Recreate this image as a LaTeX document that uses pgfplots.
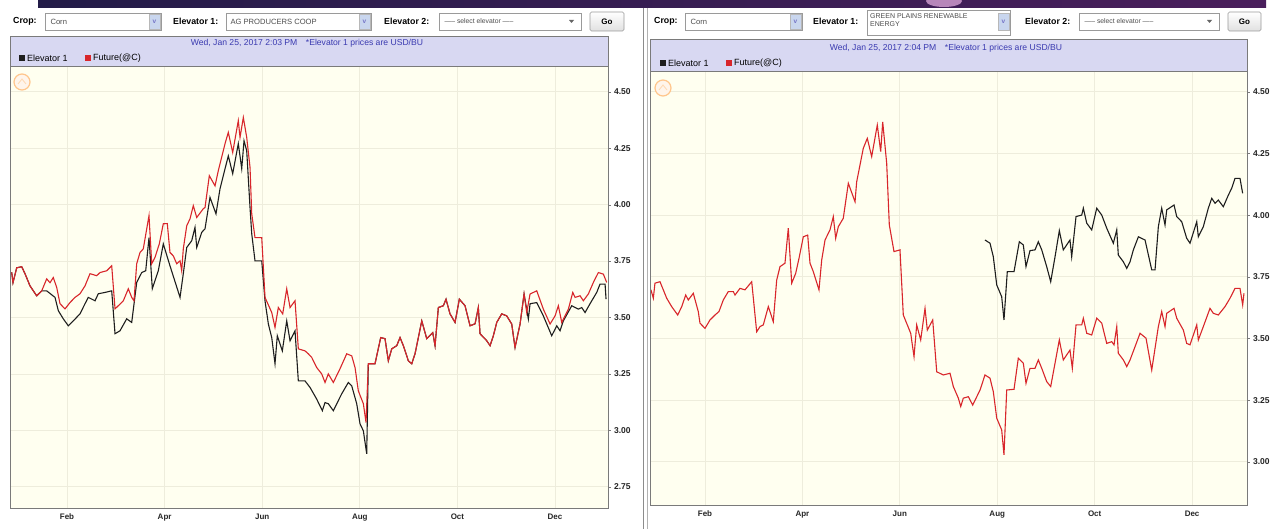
\documentclass[border=0pt]{standalone}
\usepackage{fontspec}
\setmainfont{Liberation Sans}
\usepackage{pgfplots}
\usepackage{pgfplotstable}
\pgfplotsset{compat=1.18}

\definecolor{cream}{HTML}{FFFFF0}
\definecolor{lav}{HTML}{D8D8F2}
\definecolor{gridc}{HTML}{EEEDDC}
\definecolor{framec}{HTML}{7A7A7A}
\definecolor{futred}{HTML}{D8262B}
\definecolor{elevblk}{HTML}{1E1E1E}
\definecolor{datec}{HTML}{3A3AB0}
\definecolor{boxc}{HTML}{9A9A9A}
\definecolor{arrowc}{HTML}{C9D6EE}
\definecolor{bandl}{HTML}{231C48}
\definecolor{bandr}{HTML}{4A1F5C}

% left chart: AG PRODUCERS COOP (x = month, 0 = Jan)
\pgfplotstableread{
x v
-0.133 3.700
-0.107 3.654
-0.031 3.720
0.072 3.725
0.139 3.694
0.242 3.640
0.379 3.596
0.482 3.618
0.584 3.671
0.652 3.654
0.719 3.677
0.789 3.633
0.857 3.561
0.959 3.538
1.061 3.566
1.164 3.589
1.266 3.605
1.369 3.640
1.471 3.694
1.609 3.685
1.676 3.699
1.814 3.707
1.916 3.729
1.984 3.538
2.051 3.552
2.154 3.574
2.256 3.627
2.326 3.589
2.373 3.574
2.428 3.738
2.496 3.788
2.563 3.804
2.680 3.951
2.736 3.738
2.803 3.766
2.891 3.826
2.973 3.915
3.055 3.916
3.110 3.788
3.178 3.773
3.248 3.738
3.316 3.751
3.350 3.707
3.383 3.804
3.453 3.906
3.520 3.937
3.588 3.995
3.658 3.943
3.793 3.982
3.828 3.987
3.916 4.128
4.033 4.083
4.100 4.150
4.238 4.270
4.305 4.320
4.395 4.231
4.510 4.372
4.545 4.298
4.613 4.386
4.682 4.298
4.750 4.165
4.785 3.959
4.852 3.854
4.990 3.854
5.057 3.589
5.195 3.522
5.262 3.456
5.330 3.544
5.420 3.516
5.502 3.627
5.570 3.544
5.672 3.574
5.740 3.361
5.877 3.352
5.945 3.339
6.014 3.323
6.117 3.278
6.219 3.250
6.287 3.212
6.354 3.250
6.457 3.212
6.594 3.273
6.731 3.339
6.834 3.330
6.902 3.278
6.969 3.175
7.072 3.118
7.127 3.035
7.174 3.295
7.311 3.295
7.428 3.411
7.516 3.406
7.584 3.308
7.654 3.361
7.756 3.375
7.824 3.411
7.892 3.375
7.994 3.308
8.064 3.295
8.131 3.339
8.269 3.485
8.371 3.406
8.494 3.433
8.541 3.375
8.609 3.544
8.711 3.552
8.766 3.581
8.848 3.516
8.951 3.478
9.039 3.581
9.156 3.552
9.258 3.463
9.361 3.472
9.428 3.544
9.463 3.428
9.600 3.397
9.668 3.375
9.736 3.419
9.805 3.478
9.908 3.516
10.010 3.507
10.112 3.471
10.180 3.367
10.283 3.471
10.365 3.604
10.420 3.522
10.488 3.604
10.625 3.618
10.760 3.537
10.898 3.471
11.000 3.507
11.068 3.552
11.137 3.478
11.273 3.537
11.363 3.611
11.410 3.589
11.512 3.596
11.580 3.574
11.682 3.604
11.785 3.655
11.887 3.699
11.990 3.692
12.059 3.655
}\leftfut

\pgfplotstableread{
x v
-0.133 3.700
-0.107 3.654
-0.031 3.720
0.072 3.725
0.139 3.694
0.242 3.640
0.379 3.596
0.482 3.618
0.584 3.618
0.754 3.589
0.822 3.530
0.924 3.494
1.027 3.463
1.129 3.485
1.266 3.516
1.369 3.561
1.436 3.589
1.574 3.574
1.641 3.605
1.779 3.611
1.916 3.618
1.984 3.428
2.086 3.441
2.223 3.494
2.326 3.478
2.428 3.655
2.531 3.699
2.613 3.707
2.680 3.854
2.748 3.627
2.871 3.707
2.973 3.826
3.110 3.729
3.316 3.589
3.383 3.694
3.453 3.810
3.555 3.840
3.623 3.899
3.658 3.810
3.760 3.877
3.828 3.893
3.930 4.032
4.053 3.959
4.135 4.070
4.305 4.216
4.395 4.137
4.510 4.270
4.580 4.159
4.627 4.283
4.682 4.239
4.750 3.987
4.785 3.871
4.852 3.751
4.990 3.751
5.057 3.574
5.125 3.472
5.195 3.411
5.262 3.295
5.309 3.419
5.412 3.352
5.502 3.485
5.570 3.397
5.672 3.441
5.740 3.219
5.877 3.219
5.980 3.190
6.117 3.138
6.232 3.087
6.287 3.123
6.354 3.118
6.457 3.087
6.629 3.162
6.764 3.212
6.834 3.197
6.936 3.118
7.004 3.029
7.072 2.998
7.141 2.896
7.174 3.295
7.311 3.295
7.428 3.411
7.516 3.406
7.584 3.308
7.654 3.361
7.756 3.375
7.824 3.411
7.892 3.375
7.994 3.308
8.064 3.295
8.131 3.339
8.269 3.485
8.371 3.406
8.494 3.433
8.541 3.375
8.609 3.544
8.711 3.552
8.766 3.581
8.848 3.516
8.951 3.478
9.039 3.581
9.156 3.552
9.258 3.463
9.361 3.472
9.428 3.544
9.463 3.428
9.600 3.397
9.668 3.375
9.736 3.419
9.805 3.478
9.908 3.516
10.010 3.507
10.112 3.471
10.180 3.367
10.283 3.471
10.365 3.604
10.453 3.493
10.488 3.561
10.625 3.566
10.760 3.507
10.932 3.419
11.035 3.463
11.102 3.441
11.170 3.485
11.342 3.552
11.477 3.537
11.547 3.544
11.615 3.522
11.717 3.561
11.854 3.611
11.922 3.648
12.025 3.648
12.045 3.581
}\leftelev

% right chart: GREEN PLAINS RENEWABLE ENERGY
\pgfplotstableread{
x v
-0.109 3.697
-0.061 3.663
-0.027 3.724
0.076 3.730
0.214 3.663
0.316 3.629
0.440 3.595
0.522 3.629
0.604 3.676
0.657 3.656
0.760 3.683
0.862 3.609
0.897 3.562
1.000 3.541
1.103 3.575
1.205 3.595
1.287 3.609
1.376 3.656
1.478 3.690
1.581 3.690
1.616 3.676
1.719 3.703
1.821 3.697
1.959 3.730
2.061 3.527
2.129 3.548
2.197 3.555
2.300 3.629
2.402 3.568
2.472 3.737
2.540 3.791
2.642 3.805
2.710 3.947
2.780 3.724
2.862 3.764
2.930 3.825
3.018 3.912
3.108 3.919
3.156 3.805
3.223 3.771
3.340 3.697
3.396 3.818
3.464 3.899
3.566 3.940
3.634 3.994
3.683 3.906
3.737 3.953
3.839 3.987
3.942 4.129
4.080 4.054
4.114 4.135
4.250 4.271
4.332 4.311
4.422 4.237
4.537 4.365
4.607 4.257
4.648 4.378
4.730 4.210
4.784 3.960
4.880 3.852
5.003 3.859
5.071 3.595
5.223 3.521
5.291 3.426
5.346 3.555
5.428 3.494
5.517 3.622
5.564 3.534
5.675 3.575
5.757 3.365
5.892 3.352
6.030 3.359
6.098 3.305
6.201 3.258
6.250 3.224
6.303 3.258
6.406 3.264
6.496 3.230
6.646 3.291
6.748 3.352
6.851 3.339
6.919 3.284
6.989 3.177
7.091 3.129
7.138 3.028
7.194 3.291
7.344 3.294
7.432 3.420
7.535 3.400
7.590 3.318
7.672 3.379
7.775 3.379
7.843 3.413
7.913 3.379
8.015 3.325
8.097 3.305
8.186 3.400
8.274 3.494
8.356 3.413
8.493 3.453
8.541 3.379
8.617 3.555
8.734 3.555
8.767 3.582
8.837 3.521
8.939 3.514
9.042 3.582
9.145 3.562
9.247 3.480
9.350 3.487
9.397 3.474
9.453 3.548
9.485 3.440
9.588 3.413
9.658 3.386
9.726 3.413
9.829 3.467
9.931 3.521
10.054 3.501
10.171 3.372
10.307 3.548
10.376 3.609
10.444 3.548
10.479 3.602
10.629 3.622
10.684 3.582
10.820 3.534
10.889 3.480
10.957 3.474
11.095 3.555
11.128 3.494
11.230 3.548
11.367 3.622
11.435 3.602
11.538 3.595
11.675 3.629
11.778 3.663
11.880 3.703
11.983 3.703
12.038 3.636
12.065 3.683
}\rightfut

\pgfplotstableread{
x v
6.748 3.899
6.851 3.886
6.919 3.831
6.989 3.717
7.091 3.669
7.138 3.575
7.206 3.771
7.344 3.771
7.453 3.892
7.535 3.879
7.590 3.791
7.672 3.856
7.775 3.859
7.843 3.892
7.913 3.859
8.015 3.791
8.097 3.730
8.186 3.831
8.274 3.937
8.356 3.859
8.493 3.899
8.528 3.831
8.617 3.994
8.734 4.000
8.767 4.028
8.837 3.967
8.939 3.940
9.042 4.028
9.145 4.000
9.247 3.947
9.383 3.886
9.453 3.940
9.485 3.838
9.588 3.811
9.658 3.784
9.726 3.811
9.794 3.859
9.897 3.912
10.034 3.899
10.171 3.778
10.239 3.778
10.307 3.953
10.376 4.028
10.444 3.960
10.479 4.021
10.629 4.041
10.684 3.994
10.787 3.973
10.889 3.906
10.957 3.886
11.095 3.973
11.128 3.912
11.230 3.953
11.333 4.028
11.403 4.068
11.470 4.048
11.538 4.061
11.641 4.034
11.744 4.081
11.813 4.109
11.880 4.149
11.983 4.149
12.038 4.088
}\rightelev

\pgfplotsset{
  elev/.style={
    scale only axis, anchor=north west,
    axis background/.style={fill=cream},
    axis line style={draw=framec, line width=0.8pt},
    xtick={1,3,5,7,9,11},
    xticklabels={Feb,Apr,Jun,Aug,Oct,Dec},
    xtick pos=bottom, ytick pos=right, yticklabel pos=right,
    xtick style={draw=none},
    ytick style={draw=framec},
    tick align=outside, major tick length=2.5pt,
    grid=major, major grid style={draw=gridc, line width=0.7pt},
    xticklabel style={font=\bfseries\fontsize{8}{9}\selectfont, text=black!85},
    yticklabel style={font=\bfseries\fontsize{8.5}{9}\selectfont, text=black!85,
      /pgf/number format/.cd, fixed, fixed zerofill, precision=2},
    /pgf/number format/assume math mode=true,
  },
  futline/.style={draw=futred, line width=1.1pt},
  elevline/.style={draw=elevblk, line width=1.1pt},
}

\newcommand{\lbl}[3]{\node[anchor=west, inner sep=0pt, font=\bfseries\fontsize{8.8}{10}\selectfont] at (#1pt,-#2pt) {#3};}
\newcommand{\ddbox}[4]{% x1, x2, y1, y2
  \draw[boxc, fill=white, line width=0.6pt] (#1pt,-#3pt) rectangle (#2pt,-#4pt);}
\newcommand{\ddarrow}[3]{% xright, y1, y2
  \draw[boxc!70, fill=arrowc, line width=0.5pt] (#1pt-12pt,-#2pt-1pt) rectangle (#1pt-1pt,-#3pt+1pt);
  \node[font=\bfseries\fontsize{6.5}{6.5}\selectfont, text=datec!70] at (#1pt-6.5pt,-#2pt/2-#3pt/2) {v};}
\newcommand{\gobtn}[2]{% x1, x2
  \draw[boxc, top color=white, bottom color=black!12, rounded corners=1.5pt, line width=0.6pt] (#1pt,-12pt) rectangle (#2pt,-31pt);
  \node[font=\bfseries\fontsize{8}{9}\selectfont] at (#1pt/2+#2pt/2,-21.5pt) {Go};}
\newcommand{\boxtxt}{\fontsize{7.6}{8.5}\selectfont}
\newcommand{\datetxt}{\fontsize{8.6}{9.5}\selectfont}
\newcommand{\legtxt}{\fontsize{9}{10}\selectfont}

\begin{document}
\begin{tikzpicture}
\useasboundingbox (0,0) rectangle (1283pt,-529pt);
\path[fill=white] (0,0) rectangle (1283pt,-529pt);
% slide header strip
\begin{scope}
\clip (0,0) rectangle (1283pt,-8pt);
\shade[left color=bandl, right color=bandr] (38pt,0) rectangle (1266pt,-8pt);
\fill[violet!40, opacity=0.85] (944pt,-1pt) ellipse (18pt and 6pt);
\end{scope}
% divider between the two screens
\draw[black!45, line width=1pt] (643pt,-8pt) -- (643pt,-529pt);
\draw[black!30, line width=1pt] (647pt,-8pt) -- (647pt,-529pt);

% ---------- left screen ----------
\lbl{13}{21.5}{Crop:}
\ddbox{45}{161}{13}{30}
\node[anchor=west, font=\boxtxt, text=black!70] at (47pt,-21.5pt) {Corn};
\ddarrow{161}{13}{30}
\lbl{173}{21.5}{Elevator 1:}
\ddbox{226}{371}{13}{30}
\node[anchor=west, font=\boxtxt, text=black!70] at (227pt,-21.5pt) {AG PRODUCERS COOP};
\ddarrow{371}{13}{30}
\lbl{384}{21.5}{Elevator 2:}
\ddbox{439}{581}{13}{30}
\node[anchor=west, font=\fontsize{6.8}{7.5}\selectfont, text=black!70] at (441pt,-21.5pt) {----- select elevator -----};
\fill[black!60] (569pt,-20pt) -- (574pt,-20pt) -- (571.5pt,-23pt) -- cycle;
\gobtn{590}{624}

\fill[lav] (10pt,-36pt) rectangle (608pt,-66pt);
\node[font=\datetxt, text=datec] at (307pt,-43.5pt) {Wed, Jan 25, 2017 2:03 PM\quad *Elevator 1 prices are USD/BU};
\fill[elevblk] (19pt,-55pt) rectangle (25pt,-61pt);
\node[anchor=west, inner sep=0pt, font=\legtxt] at (27pt,-58pt) {Elevator 1};
\fill[futred] (85pt,-55pt) rectangle (91pt,-61pt);
\node[anchor=west, inner sep=0pt, font=\legtxt] at (93pt,-58pt) {Future(@C)};

\begin{axis}[elev, at={(10pt,-66pt)}, width=598pt, height=442pt,
  xmin=-0.168, xmax=12.085, ymin=2.656, ymax=4.614,
  ytick={2.75,3.00,3.25,3.50,3.75,4.00,4.25,4.50}]
\addplot[elevline] table[x=x, y=v] {\leftelev};
\addplot[futline] table[x=x, y=v] {\leftfut};
\end{axis}
\draw[framec, line width=0.8pt] (10pt,-36pt) rectangle (608pt,-508pt);
\fill[orange!8] (22pt,-82pt) circle (8pt);
\draw[orange!45, line width=1.2pt] (22pt,-82pt) circle (8pt);
\draw[orange!30, line width=0.8pt] (18pt,-84pt) -- (22pt,-79pt) -- (26pt,-84pt);

% ---------- right screen ----------
\lbl{654}{21.5}{Crop:}
\ddbox{685}{802}{13}{30}
\node[anchor=west, font=\boxtxt, text=black!70] at (687pt,-21.5pt) {Corn};
\ddarrow{802}{13}{30}
\lbl{813}{21.5}{Elevator 1:}
\ddbox{867}{1010}{10}{35}
\node[anchor=north west, align=left, inner sep=0pt, font=\fontsize{7}{8.5}\selectfont, text=black!70] at (870pt,-13pt) {GREEN PLAINS RENEWABLE\\ENERGY};
\ddarrow{1010}{12}{31}
\lbl{1025}{21.5}{Elevator 2:}
\ddbox{1079}{1219}{13}{30}
\node[anchor=west, font=\fontsize{6.8}{7.5}\selectfont, text=black!70] at (1081pt,-21.5pt) {----- select elevator -----};
\fill[black!60] (1207pt,-20pt) -- (1212pt,-20pt) -- (1209.5pt,-23pt) -- cycle;
\gobtn{1228}{1261}

\fill[lav] (650pt,-39pt) rectangle (1247pt,-71pt);
\node[font=\datetxt, text=datec] at (946pt,-48pt) {Wed, Jan 25, 2017 2:04 PM\quad *Elevator 1 prices are USD/BU};
\fill[elevblk] (660pt,-60pt) rectangle (666pt,-66pt);
\node[anchor=west, inner sep=0pt, font=\legtxt] at (668pt,-63pt) {Elevator 1};
\fill[futred] (726pt,-60pt) rectangle (732pt,-66pt);
\node[anchor=west, inner sep=0pt, font=\legtxt] at (734pt,-63pt) {Future(@C)};

\begin{axis}[elev, at={(650pt,-71pt)}, width=597pt, height=434pt,
  xmin=-0.129, xmax=12.127, ymin=2.825, ymax=4.584,
  ytick={3.00,3.25,3.50,3.75,4.00,4.25,4.50}]
\addplot[elevline] table[x=x, y=v] {\rightelev};
\addplot[futline] table[x=x, y=v] {\rightfut};
\end{axis}
\draw[framec, line width=0.8pt] (650pt,-39pt) rectangle (1247pt,-505pt);
\fill[orange!8] (663pt,-88pt) circle (8pt);
\draw[orange!45, line width=1.2pt] (663pt,-88pt) circle (8pt);
\draw[orange!30, line width=0.8pt] (659pt,-90pt) -- (663pt,-85pt) -- (667pt,-90pt);
\end{tikzpicture}
\end{document}
